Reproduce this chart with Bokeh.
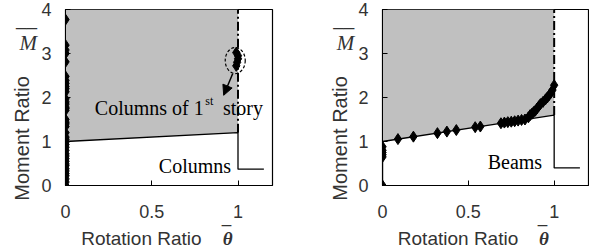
from bokeh.plotting import figure
from bokeh.layouts import row
from bokeh.models import Label, Arrow, NormalHead, FixedTicker, Range1d
from bokeh.embed import file_html
from bokeh.resources import INLINE

# ---------------- data ----------------
x_ticks = [0, 0.5, 1]
x_tick_labels = ["0", "0.5", "1"]
y_ticks = [0, 1, 2, 3, 4]

# Columns panel
col_x0 = [0] * 41
col_y0 = [0, 0.08, 0.15, 0.22, 0.27, 0.33, 0.38, 0.45, 0.49, 0.55, 0.61, 0.67,
          0.72, 0.8, 0.87, 0.93, 0.99, 1.05, 1.1, 1.2, 1.34, 1.4, 1.44, 1.5,
          1.71, 1.75, 1.78, 1.85, 1.9, 1.97, 2.13, 2.2, 2.25, 2.32, 2.39, 2.48,
          2.81, 3.0, 3.08, 3.19, 3.77]
col_x1 = [0.99, 0.995, 1.0, 1.0, 0.99]
col_y1 = [2.72, 2.8, 2.88, 2.95, 3.02]
col_bound_x = [0, 0, 1, 1, 1.15]
col_bound_y = [0, 1, 1.2, 0.37, 0.37]
col_fill_x = [0, 1, 1, 0]
col_fill_y = [1, 1.2, 4, 4]
col_lim_x = [1, 1]
col_lim_y = [1.2, 4]

# Beams panel
beam_x = [0, 0, 0, 0, 0, 0, 0.09, 0.18, 0.32, 0.375, 0.43, 0.54, 0.57, 0.69,
          0.71, 0.73, 0.75, 0.77, 0.79, 0.81, 0.83, 0.85, 0.86, 0.87, 0.88,
          0.89, 0.90, 0.91, 0.92, 0.935, 0.95, 0.96, 0.97, 0.98, 0.99, 1.0]
beam_y = [0, 0.65, 0.7, 0.75, 0.8, 0.88, 1.055, 1.11, 1.19, 1.225, 1.26, 1.325,
          1.34, 1.415, 1.43, 1.44, 1.45, 1.46, 1.475, 1.49, 1.5, 1.55, 1.6,
          1.63, 1.67, 1.7, 1.75, 1.8, 1.85, 1.9, 1.96, 2.0, 2.05, 2.1, 2.17, 2.28]
beam_bound_x = [0, 0, 1, 1, 1.15]
beam_bound_y = [0, 1, 1.6, 0.4, 0.4]
beam_fill_x = [0, 1, 1, 0]
beam_fill_y = [1, 1.6, 4, 4]
beam_lim_x = [1, 1]
beam_lim_y = [1.6, 4]

SANS = "Liberation Sans"
SERIF = "Liberation Serif"
TXT = "#333333"


def make_fig(width, left, right, fx, fy, bx, by, lx, ly, px, py, m_side, theta_x):
    p = figure(width=width, height=252, x_range=Range1d(0, 1.2), y_range=Range1d(0, 4),
               output_backend="svg", toolbar_location=None,
               min_border_left=left, min_border_right=right,
               min_border_top=9, min_border_bottom=67)
    p.grid.visible = False
    p.outline_line_color = "black"
    p.outline_line_width = 1.2
    p.xaxis.ticker = FixedTicker(ticks=x_ticks)
    p.xaxis.major_label_overrides = dict(zip(x_ticks, x_tick_labels))
    p.yaxis.ticker = FixedTicker(ticks=y_ticks)
    for ax in p.axis:
        ax.minor_tick_line_color = None
        ax.major_tick_in = 5
        ax.major_tick_out = 0
        ax.axis_line_color = "black"
        ax.major_label_text_font = SANS
        ax.major_label_text_font_size = "18px"
        ax.major_label_text_color = TXT
    p.xaxis.major_label_standoff = 19
    p.yaxis.major_label_standoff = 14

    p.patch(fx, fy, fill_color="#c0c0c0", line_color=None)
    p.line(lx, ly, line_color="black", line_width=2, line_dash="9 3 2 3")
    p.line(bx, by, line_color="black", line_width=1.3)
    p.scatter(px, py, marker="diamond", size=11, fill_color="black", line_color="black")

    # texts outside the frame live in side panels (not clipped), placed in data units
    p.add_layout(Label(x=-0.25, y=1.07, text="Moment Ratio", angle=1.5708,
                       text_align="center", text_baseline="middle",
                       text_font=SANS, text_font_size="20px", text_color=TXT), "left")
    p.add_layout(Label(x=-0.165, y=2.97, text="__\nM", text_align="right",
                       text_baseline="bottom", text_font=SERIF, text_font_style="italic",
                       text_line_height=1.0,
                       text_font_size="21px", text_color=TXT), m_side)
    p.add_layout(Label(x=0.44, y=-1.21, text="Rotation Ratio",
                       text_align="center", text_baseline="middle",
                       text_font=SANS, text_font_size="19px", text_color=TXT), "below")
    p.add_layout(Label(x=theta_x, y=-1.45, text="_\nθ", text_align="center",
                       text_baseline="bottom", text_font=SERIF, text_font_style="bold italic",
                       text_line_height=1.0,
                       text_font_size="19px", text_color=TXT), "left")
    return p


p1 = make_fig(300, 65, 28, col_fill_x, col_fill_y, col_bound_x, col_bound_y,
              col_lim_x, col_lim_y, col_x0, col_y0, "right", 0.94)
p1.scatter(col_x1, col_y1, marker="diamond", size=11, fill_color="black", line_color="black")
p1.ellipse(x=0.984, y=2.84, width=20, height=26, width_units="screen", height_units="screen",
           fill_color=None, line_color="black", line_dash="3 2", line_width=1.2)
p1.add_layout(Arrow(x_start=0.969, y_start=2.54, x_end=0.917, y_end=2.05, line_width=1.5,
                    end=NormalHead(size=10, fill_color="black", line_color="black")))
p1.add_layout(Label(x=0.17, y=1.77, text="Columns of 1", text_font=SERIF,
                    text_font_size="20px", text_baseline="alphabetic", text_color="black"))
p1.add_layout(Label(x=0.81, y=1.93, text="st", text_font=SERIF,
                    text_font_size="12px", text_baseline="alphabetic", text_color="black"))
p1.add_layout(Label(x=0.913, y=1.77, text="story", text_font=SERIF,
                    text_font_size="20px", text_baseline="alphabetic", text_color="black"))
p1.add_layout(Label(x=0.96, y=0.45, text="Columns", text_font=SERIF, text_align="right",
                    text_font_size="20px", text_baseline="alphabetic", text_color="black"))

p2 = make_fig(289, 82, 1, beam_fill_x, beam_fill_y, beam_bound_x, beam_bound_y,
              beam_lim_x, beam_lim_y, beam_x, beam_y, "left", 0.94)
p2.add_layout(Label(x=0.93, y=0.53, text="Beams", text_font=SERIF, text_align="right",
                    text_font_size="20px", text_baseline="alphabetic", text_color="black"))

layout = row(p1, p2)
open("out.html", "w").write(file_html(layout, INLINE))
